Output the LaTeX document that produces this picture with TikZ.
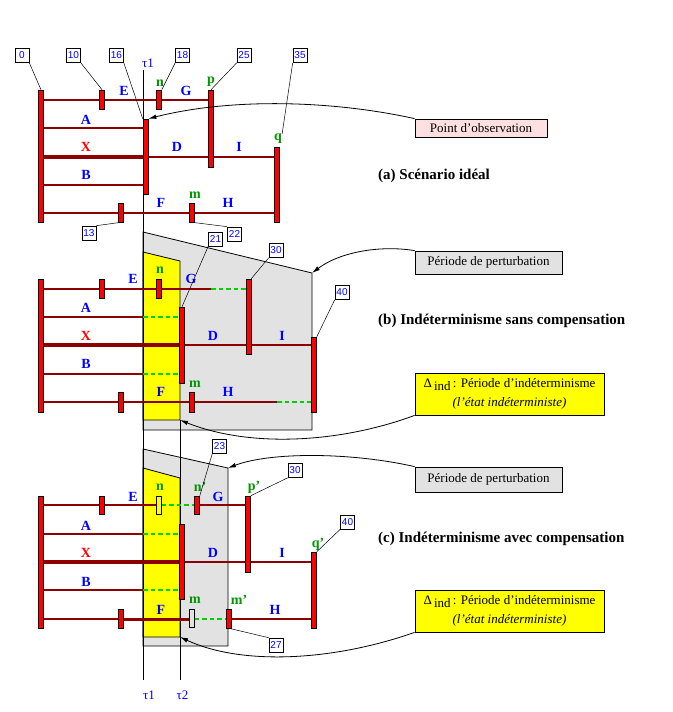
\documentclass[tikz,border=0pt]{standalone}
\usepackage{fontspec}
\setmainfont{Liberation Serif}
\setsansfont{Liberation Sans}
\usepackage{tikz}
\usetikzlibrary{arrows.meta}
\definecolor{MsgRed}{RGB}{140,0,0}
\definecolor{BarRed}{RGB}{255,0,0}
\definecolor{EvtGreen}{RGB}{0,150,0}
\definecolor{LostGreen}{RGB}{0,210,0}
\definecolor{ZoneGray}{RGB}{226,226,226}
\definecolor{ObsPink}{RGB}{255,224,224}
\definecolor{IndYellow}{RGB}{255,255,0}
\pgfdeclarelayer{zones}
\pgfdeclarelayer{lines}
\pgfsetlayers{zones,lines,main}
\tikzset{
  evbar/.style={draw=black,fill=BarRed,line width=0.6pt,inner sep=0pt,minimum width=5pt},
  hollowbar/.style={draw=black,line width=0.6pt,inner sep=0pt,minimum width=5pt},
  msg/.style={draw=MsgRed,line width=2pt},
  msgmid/.style={draw=MsgRed,line width=3pt},
  msgbig/.style={draw=MsgRed,line width=4pt},
  lost/.style={draw=LostGreen,line width=2pt,dash pattern=on 4.5pt off 3pt},
  lbl/.style={text=blue,inner sep=0pt,font=\fontsize{14}{14}\selectfont\bfseries},
  evt/.style={text=EvtGreen,inner sep=0pt,font=\fontsize{14}{14}\selectfont\bfseries},
  xlbl/.style={text=red,inner sep=0pt,font=\fontsize{14}{14}\selectfont\bfseries},
  numbox/.style={draw=black,fill=white,line width=0.6pt,text=blue,inner sep=1pt,minimum size=14pt,font=\sffamily\fontsize{10}{10}\selectfont},
  leader/.style={draw=black,line width=0.5pt},
  timeline/.style={draw=black,line width=0.8pt},
  zone/.style={draw=black,fill=ZoneGray,line width=0.8pt},
  indzone/.style={draw=black,fill=IndYellow,line width=0.8pt},
  callout/.style={draw=black,line width=0.8pt,-{Latex[length=8pt,width=4.5pt]}},
  notebox/.style={draw=black,line width=0.8pt,inner sep=2pt,align=center,font=\fontsize{13}{19}\selectfont},
  scenario/.style={anchor=west,inner sep=0pt,font=\fontsize{15}{15}\selectfont\bfseries},
  taulbl/.style={text=blue,inner sep=0pt,font=\fontsize{13}{13}\selectfont}
}

\begin{document}
\begin{tikzpicture}[x=1pt,y=-1pt]
\useasboundingbox (0,0) rectangle (672,712);

% perturbation and indeterminism zones
\begin{pgfonlayer}{zones}
\draw[zone] (143,232) -- (312,273) coordinate (gb) -- (312,430) -- (143,430) -- cycle;
\draw[indzone] (143,252) -- (180,261) -- (180,420) coordinate (yb) -- (143,420) -- cycle;
\draw[zone] (143,449) -- (228,468) coordinate (gc) -- (228,646) -- (143,646) -- cycle;
\draw[indzone] (143,468) -- (180,478) -- (180,637) coordinate (yc) -- (143,637) -- cycle;
\coordinate (t1) at (143,70);
\coordinate (t1end) at (143,680);
\coordinate (t2) at (180,420);
\coordinate (t2end) at (180,680);
\draw[timeline] (t1) -- (t1end);
\draw[timeline] (t2) -- (t2end);
\end{pgfonlayer}
\node[taulbl] (tau1a) at (148,63) {τ1};
\node[taulbl] (tau1c) at (149,695) {τ1};
\node[taulbl] (tau2c) at (182.5,695) {τ2};

% (a) scenario ideal
\node[evbar,minimum height=132pt] (a0) at (41,156) {};
\node[evbar,minimum height=19pt] (a10) at (102,99.5) {};
\node[evbar,minimum height=75pt] (a16) at (145.5,156.5) {};
\node[evbar,minimum height=19pt] (a18) at (159,99.5) {};
\node[evbar,minimum height=77pt] (a25) at (211,128.5) {};
\node[evbar,minimum height=75pt] (a35) at (277,184.5) {};
\node[evbar,minimum height=19pt] (a13) at (121,212.5) {};
\node[evbar,minimum height=19pt] (a22) at (192,212.5) {};
\begin{pgfonlayer}{lines}
\draw[msg] (a0 |- 0,100) -- (a25 |- 0,100);
\draw[msg] (a0 |- 0,128) -- (a16 |- 0,128);
\draw[msgbig] (a0 |- 0,157) -- (a16 |- 0,157);
\draw[msg] (a16 |- 0,157) -- (a35 |- 0,157);
\draw[msg] (a0 |- 0,185) -- (a16 |- 0,185);
\draw[msg] (a0 |- 0,213) -- (a35 |- 0,213);
\end{pgfonlayer}
\node[lbl] (aE) at (124,91) {E};
\node[evt] (an) at (160,83) {n};
\node[lbl] (aG) at (186,91) {G};
\node[evt] (ap) at (211,82) {p};
\node[lbl] (aA) at (86,120) {A};
\node[xlbl] (aX) at (86,147) {X};
\node[lbl] (aD) at (177,147) {D};
\node[lbl] (aI) at (239,147) {I};
\node[evt] (aq) at (278,139) {q};
\node[lbl] (aB) at (86,175) {B};
\node[lbl] (aF) at (161,203) {F};
\node[evt] (am) at (195,195) {m};
\node[lbl] (aH) at (228,203) {H};
\node[numbox] (n0) at (22,55.5) {0};
\node[numbox] (n10) at (73.5,55.5) {10};
\node[numbox] (n16) at (116.5,55.5) {16};
\node[numbox] (n18) at (182.5,55.5) {18};
\node[numbox] (n25) at (244,55.5) {25};
\node[numbox] (n35) at (300,55.5) {35};
\node[numbox] (n13) at (89,233) {13};
\node[numbox] (n22) at (234.5,234) {22};
\draw[leader] (n0.south east) -- (a0.north);
\draw[leader] (n10.south east) -- (a10.north);
\draw[leader] (n16.south east) -- (a16.north west);
\draw[leader] (n18.south west) -- (a18.north east);
\draw[leader] (n25.south west) -- (a25.north);
\draw[leader] (n35.south west) -- (aq.north east);
\draw[leader] (n13.north east) -- (a13.south);
\draw[leader] (a22.south) -- (n22.north west);
\node[notebox,fill=ObsPink,minimum width=132pt,minimum height=18pt] (obs) at (481,128) {Point d’observation};
\draw[callout] (obs.north west) .. controls (330,100) and (230,98) .. (a16.north east);
\node[scenario] (tita) at (378,176) {(a) Scénario idéal};

% (b) indeterminisme sans compensation
\node[evbar,minimum height=133pt] (b0) at (41,345.5) {};
\node[evbar,minimum height=19pt] (b10) at (102,288.5) {};
\node[evbar,minimum height=19pt] (b18) at (159,288.5) {};
\node[evbar,minimum height=75pt] (b30) at (248.5,316.5) {};
\node[evbar,minimum height=76pt] (b21) at (182,345) {};
\node[evbar,minimum height=75pt] (b40) at (314,374.5) {};
\node[evbar,minimum height=20pt] (b13) at (121,402) {};
\node[evbar,minimum height=20pt] (b22) at (192,402) {};
\begin{pgfonlayer}{lines}
\draw[msg] (b0 |- 0,289) -- (a25 |- 0,289);
\draw[lost] (a25 |- 0,289) -- (b30 |- 0,289);
\draw[msg] (b0 |- 0,317) -- (t1 |- 0,317);
\draw[lost] (t1 |- 0,317) -- (b21 |- 0,317);
\draw[msgbig] (b0 |- 0,345) -- (b21 |- 0,345);
\draw[msg] (b21 |- 0,345) -- (b40 |- 0,345);
\draw[msg] (b0 |- 0,374) -- (t1 |- 0,374);
\draw[lost] (t1 |- 0,374) -- (b21 |- 0,374);
\draw[msg] (b0 |- 0,402) -- (a35 |- 0,402);
\draw[lost] (a35 |- 0,402) -- (b40 |- 0,402);
\end{pgfonlayer}
\node[lbl] (bE) at (133,279) {E};
\node[evt] (bn) at (160,270) {n};
\node[lbl] (bG) at (191,279) {G};
\node[lbl] (bA) at (86,308) {A};
\node[xlbl] (bX) at (86,336) {X};
\node[lbl] (bD) at (213,336) {D};
\node[lbl] (bI) at (282,336) {I};
\node[lbl] (bB) at (86,364) {B};
\node[lbl] (bF) at (161,392) {F};
\node[evt] (bm) at (195,384) {m};
\node[lbl] (bH) at (228,392) {H};
\node[numbox] (n21) at (215.5,239) {21};
\node[numbox] (n30) at (276,250.5) {30};
\node[numbox] (n40) at (342,292.5) {40};
\draw[leader] (n21.south west) -- (b21.north);
\draw[leader] (n30.south west) -- (b30.north east);
\draw[leader] (n40.south west) -- (b40.north east);
\node[notebox,fill=ZoneGray,minimum width=147pt,minimum height=23pt] (pertb) at (488.5,262.5) {Période de perturbation};
\draw[callout] (pertb.north west) .. controls (380,245) and (340,252) .. (gb);
\node[scenario] (titb) at (378,321) {(b) Indéterminisme sans compensation};
\node[notebox,fill=IndYellow,minimum width=189pt,minimum height=42pt] (indb) at (509.5,394) {Δ\,\raisebox{-0.45ex}{ind}\,: Période d’indéterminisme\\\textit{(l’état indéterministe)}};
\draw[callout] (indb.south west) .. controls (340,443) and (250,448) .. (yb);

% (c) indeterminisme avec compensation
\node[evbar,minimum height=132pt] (c0) at (41,562) {};
\node[evbar,minimum height=18pt] (c10) at (102,505) {};
\node[hollowbar,minimum height=18pt] (c18) at (159,505) {};
\node[evbar,minimum height=18pt] (c23) at (197,505) {};
\node[evbar,minimum height=76pt] (c30) at (248,534) {};
\node[evbar,minimum height=75pt] (c21) at (182,561.5) {};
\node[evbar,minimum height=76pt] (c40) at (314,590) {};
\node[evbar,minimum height=19pt] (c13) at (121,618.5) {};
\node[hollowbar,minimum height=18pt] (c22) at (192,618) {};
\node[evbar,minimum height=19pt] (c27) at (229,618.5) {};
\begin{pgfonlayer}{lines}
\draw[msg] (c0 |- 0,505) -- (c18.west |- 0,505);
\draw[lost] (c18.east |- 0,505) -- (c23 |- 0,505);
\draw[msg] (c23 |- 0,505) -- (c30 |- 0,505);
\draw[msg] (c0 |- 0,534) -- (t1 |- 0,534);
\draw[lost] (t1 |- 0,534) -- (c21 |- 0,534);
\draw[msgbig] (c0 |- 0,562) -- (c21 |- 0,562);
\draw[msg] (c21 |- 0,562) -- (c40 |- 0,562);
\draw[msg] (c0 |- 0,590) -- (t1 |- 0,590);
\draw[lost] (t1 |- 0,590) -- (c21 |- 0,590);
\draw[msg] (c0 |- 0,619) -- (c13 |- 0,619);
\draw[msgmid] (c13 |- 0,619) -- (c22.west |- 0,619);
\draw[lost] (c22.east |- 0,619) -- (c27 |- 0,619);
\draw[msg] (c27 |- 0,619) -- (c40 |- 0,619);
\end{pgfonlayer}
\node[lbl] (cE) at (133,497) {E};
\node[evt] (cn) at (160,487) {n};
\node[evt] (cn2) at (200,487) {n’};
\node[lbl] (cG) at (218,497) {G};
\node[evt] (cp2) at (254,487) {p’};
\node[lbl] (cA) at (86,526) {A};
\node[xlbl] (cX) at (86,553) {X};
\node[lbl] (cD) at (213,553) {D};
\node[lbl] (cI) at (282,553) {I};
\node[evt] (cq2) at (318,544) {q’};
\node[lbl] (cB) at (86,582) {B};
\node[lbl] (cF) at (161,610) {F};
\node[evt] (cm) at (195,600) {m};
\node[evt] (cm2) at (239,600) {m’};
\node[lbl] (cH) at (275,610) {H};
\node[numbox] (n23) at (219.5,446.5) {23};
\node[numbox] (n30c) at (295,470.5) {30};
\node[numbox] (n40c) at (347.5,522) {40};
\node[numbox] (n27) at (276,645) {27};
\draw[leader] (n23.south west) -- (c23.north east);
\draw[leader] (n30c.south west) -- (c30.north east);
\draw[leader] (n40c.south west) -- (c40.north east);
\draw[leader] (c27.south) -- (n27.north west);
\node[notebox,fill=ZoneGray,minimum width=147pt,minimum height=25pt] (pertc) at (488.5,479.5) {Période de perturbation};
\draw[callout] (pertc.north west) .. controls (350,452) and (270,452) .. (gc);
\node[scenario] (titc) at (378,539) {(c) Indéterminisme avec compensation};
\node[notebox,fill=IndYellow,minimum width=189pt,minimum height=42pt] (indc) at (509.5,611) {Δ\,\raisebox{-0.45ex}{ind}\,: Période d’indéterminisme\\\textit{(l’état indéterministe)}};
\draw[callout] (indc.south west) .. controls (330,662) and (240,665) .. (yc);
\end{tikzpicture}
\end{document}
